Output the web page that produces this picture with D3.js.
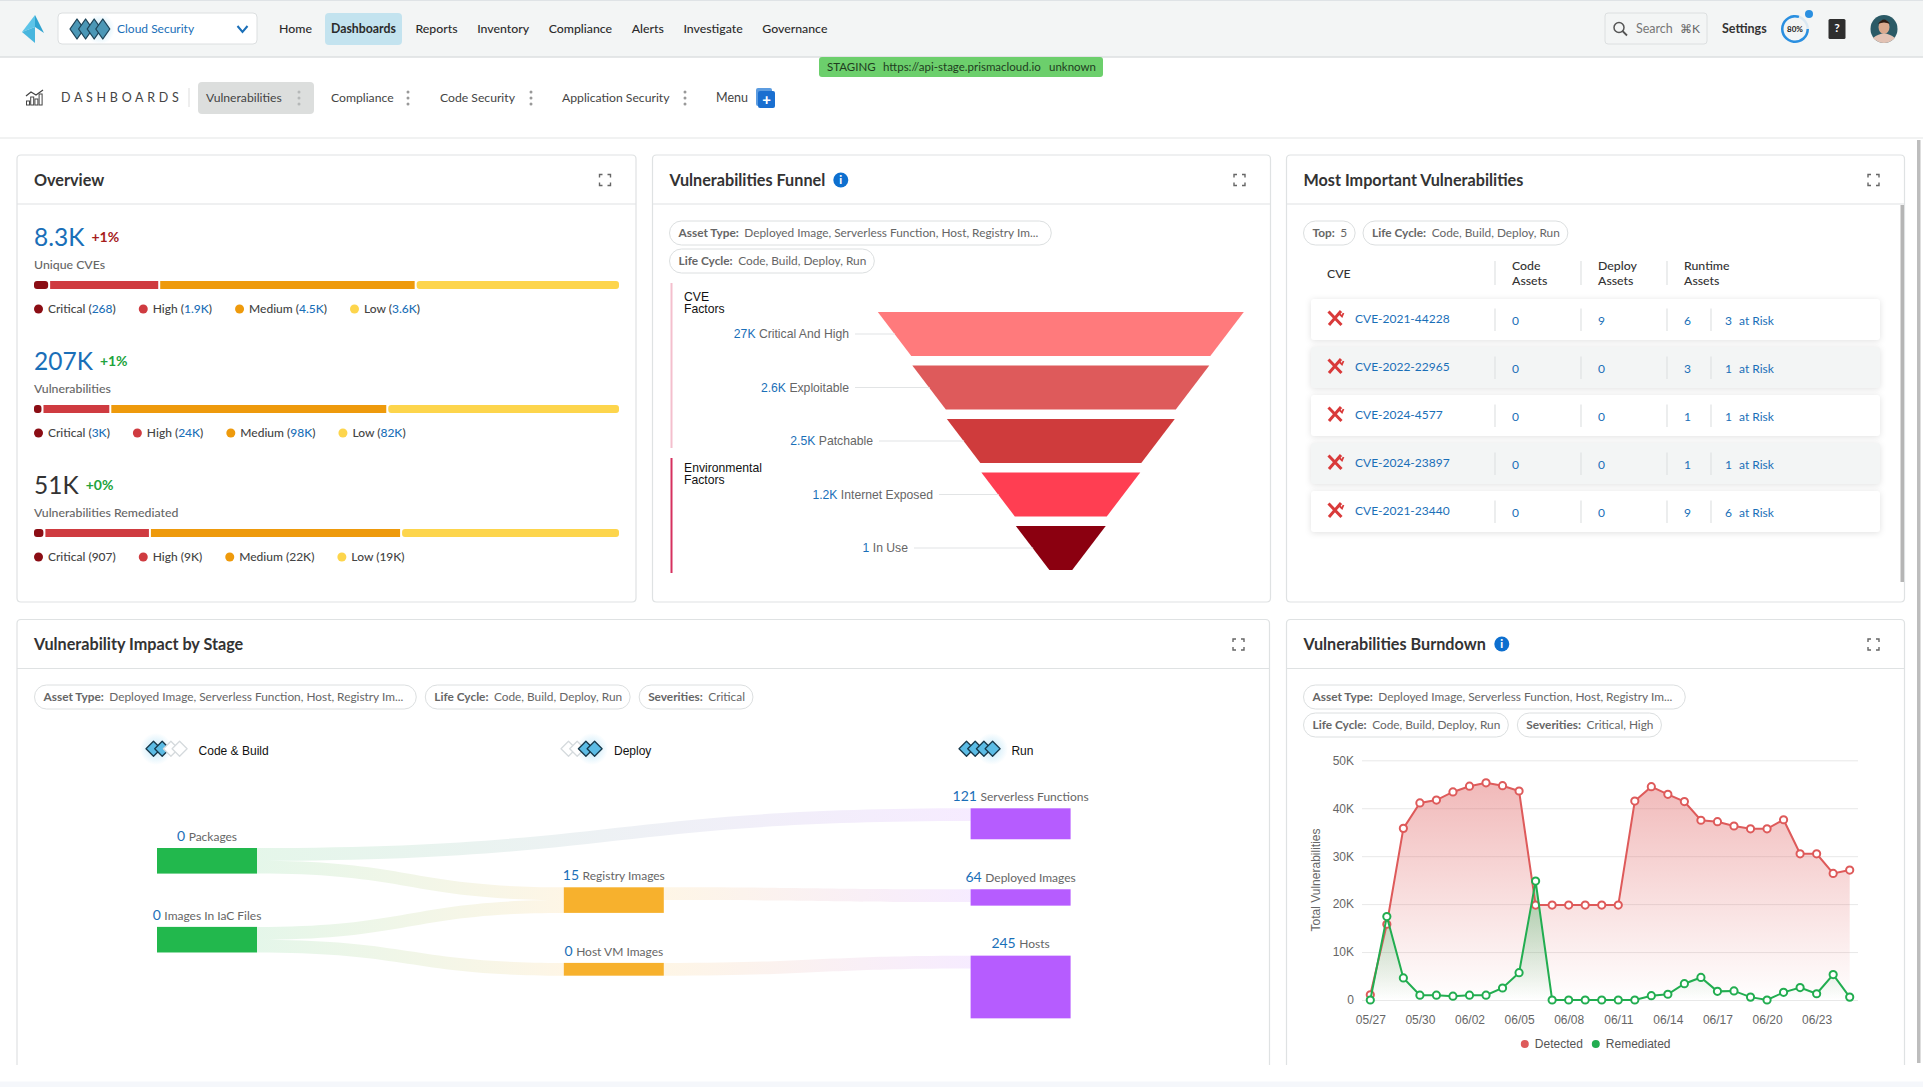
<!DOCTYPE html>
<html>
<head>
<meta charset="utf-8">
<title>Dashboards</title>
<script src="https://cdn.jsdelivr.net/npm/d3@7"></script>
<style>
  html, body { margin: 0; padding: 0; background: #fff; overflow: hidden; }
  svg { display: block; }
  text { font-family: Lato, "Open Sans", sans-serif; }
  .helv { font-family: "Liberation Sans", Arial, sans-serif; }
  .axis text { font-family: "Liberation Sans", Arial, sans-serif; font-size: 12px; fill: #666; }
  .axis .domain { display: none; }
  .axis line { stroke: #e8e8e8; }
</style>
</head>
<body>
<script>
// ---- data ----
var navItems = ["Home", "Dashboards", "Reports", "Inventory", "Compliance", "Alerts", "Investigate", "Governance"];
var tabItems = ["Vulnerabilities", "Compliance", "Code Security", "Application Security"];

var severityNames = ["Critical", "High", "Medium", "Low"];
var overviewTitles = ["Unique CVEs", "Vulnerabilities", "Vulnerabilities Remediated"];
var overviewTotals = ["8.3K", "207K", "51K"];
var overviewDeltas = ["+1%", "+1%", "+0%"];
var overviewValues = [[268, 1949, 4540, 3600], [3000, 24000, 98000, 82000], [907, 9200, 21900, 19000]];
var overviewLabels = [["268", "1.9K", "4.5K", "3.6K"], ["3K", "24K", "98K", "82K"], ["907", "9K", "22K", "19K"]];

var funnelNames = ["Critical And High", "Exploitable", "Patchable", "Internet Exposed", "In Use"];
var funnelValues = ["27K", "2.6K", "2.5K", "1.2K", "1"];

var cveIds = ["CVE-2021-44228", "CVE-2022-22965", "CVE-2024-4577", "CVE-2024-23897", "CVE-2021-23440"];
var codeAssets = [0, 0, 0, 0, 0];
var deployAssets = [9, 0, 0, 0, 0];
var runtimeAssets = [6, 3, 1, 1, 9];
var atRisk = [3, 1, 1, 1, 6];

var stageNames = ["Code & Build", "Deploy", "Run"];
var nodeNames = ["Packages", "Images In IaC Files", "Registry Images", "Host VM Images", "Serverless Functions", "Deployed Images", "Hosts"];
var nodeValues = [0, 0, 15, 0, 121, 64, 245];
var nodeStages = [0, 0, 1, 1, 2, 2, 2];
var linkSources = [0, 0, 1, 1, 2, 3];
var linkTargets = [4, 2, 2, 3, 5, 6];
var linkValues = [50, 50, 50, 50, 50, 50];

var dates = ["05/27", "05/28", "05/29", "05/30", "05/31", "06/01", "06/02", "06/03", "06/04", "06/05",
  "06/06", "06/07", "06/08", "06/09", "06/10", "06/11", "06/12", "06/13", "06/14", "06/15",
  "06/16", "06/17", "06/18", "06/19", "06/20", "06/21", "06/22", "06/23", "06/24", "06/25"];
var detected = [1100, 15800, 35800, 41100, 41700, 43400, 44600, 45300, 44700, 43600,
  19800, 19800, 19800, 19800, 19800, 19800, 41500, 44500, 42900, 41400,
  37500, 37200, 36300, 35700, 35700, 37600, 30500, 30500, 26400, 27100];
var remediated = [0, 17400, 4600, 1000, 1000, 800, 1000, 1000, 2500, 5700,
  24800, 0, 0, 0, 0, 0, 0, 900, 1200, 3400,
  4700, 1800, 1900, 600, 0, 1600, 2600, 1300, 5300, 600];
var burndownTicks = [0, 10000, 20000, 30000, 40000, 50000];

// colours
var severityColors = ["#8b0d14", "#cf3b40", "#ee9a0c", "#fdd54c"];
var funnelColors = ["#ff7a7c", "#de5a5b", "#cf3b3c", "#ff3e52", "#8b0010"];
var BLUE = "#1a6fb8", GREY = "#666", DARK = "#333", BORDER = "#dfe2e3";

var svg = d3.select("body").append("svg").attr("width", 1923).attr("height", 1087);
var defs = svg.append("defs");

// ---- helpers ----
function txt(parent, x, y, s, size, color, weight) {
  return parent.append("text").attr("x", x).attr("y", y).attr("dy", "0.35em")
    .attr("font-size", size).attr("fill", color || DARK).attr("font-weight", weight || 400).text(s);
}

function pill(x, y, label, value) {
  var g = svg.append("g");
  var r = g.append("rect").attr("x", x).attr("y", y).attr("height", 24).attr("rx", 12)
    .attr("fill", "#fff").attr("stroke", "#dcdfe0");
  var t = txt(g, x + 9, y + 12, label + ":", 11.85, GREY, 700);
  t.append("tspan").attr("dx", 5.5).attr("font-weight", 400).text(value);
  // the cut off values keep a little more room on the right
  var w = t.node().getComputedTextLength() + 5.5 + 17 + (value.slice(-3) == "..." ? 5 : 0);
  r.attr("width", w);
  return x + w;
}

function expandIcon(cx, cy) {
  svg.append("path").attr("fill", "none").attr("stroke", "#666").attr("stroke-width", 1.4)
    .attr("d", [[-1, -1], [1, -1], [1, 1], [-1, 1]].map(function(c) {
      var a = cx + c[0] * 5.5, b = cy + c[1] * 5.5;
      return "M" + (a - c[0] * 3) + " " + b + "H" + a + "V" + (b - c[1] * 3);
    }).join(""));
}

function infoIcon(cx, cy) {
  svg.append("circle").attr("cx", cx).attr("cy", cy).attr("r", 7.5).attr("fill", "#0d6fcf");
  txt(svg, cx, cy, "i", 11, "#fff", 900).attr("text-anchor", "middle");
}

// card with optional open bottom for the ones cut by the fold
function card(x0, y0, x1, y1, headY, title, open) {
  var r = 4;
  svg.append("path").attr("fill", "#fff").attr("stroke", BORDER).attr("stroke-width", 1.2)
    .attr("d", open
      ? "M" + x0 + " " + y1 + "V" + (y0 + r) + "Q" + x0 + " " + y0 + " " + (x0 + r) + " " + y0 + "H" + (x1 - r) + "Q" + x1 + " " + y0 + " " + x1 + " " + (y0 + r) + "V" + y1
      : "M" + (x0 + r) + " " + y0 + "H" + (x1 - r) + "Q" + x1 + " " + y0 + " " + x1 + " " + (y0 + r) + "V" + (y1 - r) + "Q" + x1 + " " + y1 + " " + (x1 - r) + " " + y1 + "H" + (x0 + r) + "Q" + x0 + " " + y1 + " " + x0 + " " + (y1 - r) + "V" + (y0 + r) + "Q" + x0 + " " + y0 + " " + (x0 + r) + " " + y0);
  svg.append("line").attr("x1", x0).attr("x2", x1).attr("y1", headY).attr("y2", headY).attr("stroke", BORDER).attr("stroke-width", 1.2);
  txt(svg, x0 + 17, (y0 + headY) / 2 + 0.5, title, 16.2, DARK, 700);
  expandIcon(x1 - 31, (y0 + headY) / 2 + 0.5);
}

function diamonds(x, cy, w, h, step, active, fill, stroke) {
  var g = svg.append("g");
  active.forEach(function(on, i) {
    var cx = x + w / 2 + i * step;
    g.append("path")
      .attr("d", "M" + (cx - w / 2) + " " + cy + "L" + cx + " " + (cy - h / 2) + "L" + (cx + w / 2) + " " + cy + "L" + cx + " " + (cy + h / 2) + "Z")
      .attr("stroke-linejoin", "round").attr("stroke-width", 1.3)
      .attr("fill", on ? fill : "#fff").attr("stroke", on ? stroke : "#d5dadd");
  });
}

var glow = defs.append("radialGradient").attr("id", "glow");
glow.append("stop").attr("offset", "0%").attr("stop-color", "#8fd3f2").attr("stop-opacity", 0.55);
glow.append("stop").attr("offset", "100%").attr("stop-color", "#8fd3f2").attr("stop-opacity", 0);

// ---- top bar ----
svg.append("rect").attr("width", 1923).attr("height", 57).attr("fill", "#f3f5f5");
svg.append("line").attr("x1", 0).attr("x2", 1923).attr("y1", 57).attr("y2", 57).attr("stroke", "#dcdfe0").attr("stroke-width", 1.5);
svg.append("line").attr("x1", 0).attr("x2", 1923).attr("y1", 0.5).attr("y2", 0.5).attr("stroke", "#dfe3e6");
svg.append("path").attr("d", "M35 15L22 32L35 27Z").attr("fill", "#5cc4e8");
svg.append("path").attr("d", "M35 15L44 33L35 27Z").attr("fill", "#2fa3d0");
svg.append("path").attr("d", "M22 32L35 27L35 43Z").attr("fill", "#48b6de");

svg.append("rect").attr("x", 58).attr("y", 13).attr("width", 199).attr("height", 31).attr("rx", 4).attr("fill", "#fff").attr("stroke", "#dcdfe0");
svg.append("circle").attr("cx", 100).attr("cy", 29).attr("r", 15).attr("fill", "url(#glow)");
diamonds(70, 29, 14, 20, 8.6, [1, 1, 1, 1], "#4b97b6", "#1d4357");
txt(svg, 117, 29, "Cloud Security", 12, BLUE);
svg.append("path").attr("d", "M237.5 26L242.5 32L247.5 26").attr("fill", "none").attr("stroke", "#1a6fb8").attr("stroke-width", 2);

svg.append("rect").attr("x", 325).attr("y", 13).attr("width", 77).attr("height", 32).attr("rx", 4).attr("fill", "#c3e3ef");
var navX = 279;
navItems.forEach(function(d, i) {
  if (d == "Dashboards") navX = 331;
  var t = txt(svg, navX, 29, d, 12.3, "#2b2b2b", d == "Dashboards" ? 700 : 500);
  navX += t.node().getComputedTextLength() + 19.6;
});

svg.append("rect").attr("x", 1605).attr("y", 13).attr("width", 102).attr("height", 31).attr("rx", 3).attr("fill", "#f3f5f5").attr("stroke", "#dcdfe0");
svg.append("circle").attr("cx", 1619).attr("cy", 27.5).attr("r", 5).attr("fill", "none").attr("stroke", "#555").attr("stroke-width", 1.5);
svg.append("line").attr("x1", 1622.5).attr("y1", 31).attr("x2", 1627).attr("y2", 35.5).attr("stroke", "#555").attr("stroke-width", 1.8);
txt(svg, 1636, 29, "Search", 12.5, "#777");
txt(svg, 1680, 29, "⌘K", 12, "#666").attr("font-family", "DejaVu Sans");
txt(svg, 1722, 29, "Settings", 12.5, DARK, 700);

var ringArc = d3.arc().innerRadius(11.5).outerRadius(14);
svg.append("circle").attr("cx", 1795).attr("cy", 29).attr("r", 12.7).attr("fill", "none").attr("stroke", "#dbe8f2").attr("stroke-width", 2.5);
svg.append("path").attr("transform", "translate(1795,29)").attr("fill", "#2a8fe0")
  .attr("d", ringArc({ startAngle: Math.PI * 0.5, endAngle: Math.PI * 2.1 }));
svg.append("circle").attr("cx", 1809).attr("cy", 14).attr("r", 4).attr("fill", "#2a8fe0");
txt(svg, 1795, 29, "80%", 8, "#222", 700).attr("text-anchor", "middle");

svg.append("rect").attr("x", 1828.5).attr("y", 19).attr("width", 17).attr("height", 20).attr("rx", 1.5).attr("fill", "#2e2e2e");
txt(svg, 1837, 28, "?", 12, "#fff", 700).attr("text-anchor", "middle");

svg.append("ellipse").attr("cx", 1884).attr("cy", 29).attr("rx", 13.5).attr("ry", 14).attr("fill", "#2b5a66");
svg.append("ellipse").attr("cx", 1884).attr("cy", 27).attr("rx", 5.5).attr("ry", 7).attr("fill", "#d9a98e");
svg.append("path").attr("d", "M1878 24Q1884 15 1890 24Q1884 21 1878 24Z").attr("fill", "#2d1c14");
svg.append("path").attr("d", "M1873 38Q1884 29 1895 38Q1890 43 1884 43Q1878 43 1873 38Z").attr("fill", "#e2c2b4");

// ---- dashboards strip ----
svg.append("rect").attr("x", 819).attr("y", 57).attr("width", 284).attr("height", 20).attr("rx", 3).attr("fill", "#6ccf6c");
txt(svg, 827, 67, "STAGING", 11.5, "#1f3d1f");
txt(svg, 883, 67, "https://api-stage.prismacloud.io", 11.5, "#1f3d1f");
txt(svg, 1049, 67, "unknown", 11.5, "#1f3d1f");

[[0, 4], [1, 8], [2, 6], [3, 11]].forEach(function(b) {
  svg.append("rect").attr("x", 26.5 + b[0] * 4.2).attr("y", 105 - b[1]).attr("width", 3).attr("height", b[1]).attr("fill", "none").attr("stroke", "#444");
});
svg.append("path").attr("d", "M26 96L31 92L36 95L43 90").attr("fill", "none").attr("stroke", "#444").attr("stroke-width", 1.3);
txt(svg, 61, 98, "DASHBOARDS", 12.5, "#444").attr("letter-spacing", "3.7px");
svg.append("line").attr("x1", 189).attr("x2", 189).attr("y1", 88).attr("y2", 107).attr("stroke", "#ddd");
svg.append("rect").attr("x", 198).attr("y", 82).attr("width", 116).attr("height", 32).attr("rx", 4).attr("fill", "#dcdedd");

var tabX = [206, 331, 440, 562];
var tabDots = [299, 408, 531, 685];
tabItems.forEach(function(d, i) {
  txt(svg, tabX[i], 98, d, 12.2, "#444");
  [-6, 0, 6].forEach(function(o) {
    svg.append("circle").attr("cx", tabDots[i]).attr("cy", 98 + o).attr("r", 1.5).attr("fill", i == 0 ? "#b5b8b8" : "#999");
  });
});
txt(svg, 716, 98, "Menu", 12.5, "#444");
svg.append("rect").attr("x", 756).attr("y", 88).attr("width", 16).attr("height", 18).attr("rx", 2).attr("fill", "#5c9ce0");
svg.append("rect").attr("x", 758).attr("y", 91).attr("width", 17).attr("height", 17).attr("rx", 2).attr("fill", "#1a6fd0");
txt(svg, 766.5, 99.5, "+", 15, "#fff", 900).attr("text-anchor", "middle");
svg.append("line").attr("x1", 0).attr("x2", 1923).attr("y1", 138).attr("y2", 138).attr("stroke", "#e3e5e6").attr("stroke-width", 1.2);

// ---- overview ----
card(17, 155, 636, 602, 204, "Overview");

var barScale = d3.scaleLinear().range([34, 619]);
overviewTitles.forEach(function(title, k) {
  var top = 237 + k * 124;
  var t = txt(svg, 34, top, overviewTotals[k], 24.5, k == 2 ? DARK : BLUE);
  var deltaColor = k == 0 ? "#a61c1c" : "#22a33c";
  txt(svg, 34 + t.node().getComputedTextLength() + 7, top, overviewDeltas[k], 14, deltaColor, 700);
  txt(svg, 34, top + 28, title, 12.3, GREY, 500);

  // stacked severity bar
  var vals = overviewValues[k];
  barScale.domain([0, d3.sum(vals)]);
  var acc = 0;
  vals.forEach(function(v, i) {
    var x0 = barScale(acc) + (i ? 1 : 0), x1 = barScale(acc + v) - (i < 3 ? 1 : 0);
    svg.append("rect").attr("x", x0).attr("y", top + 44).attr("width", x1 - x0).attr("height", 8)
      .attr("fill", severityColors[i]).attr("rx", (i == 0 || i == 3) ? 3 : 0);
    acc += v;
  });

  // legend, laid out left to right
  var lx = 34;
  severityNames.forEach(function(name, i) {
    svg.append("circle").attr("cx", lx + 4.5).attr("cy", top + 72).attr("r", 4.5).attr("fill", severityColors[i]);
    var lt = txt(svg, lx + 14, top + 72, name + " (", 12, "#444", 500);
    lt.append("tspan").attr("fill", k == 2 ? "#444" : BLUE).text(overviewLabels[k][i]);
    lt.append("tspan").text(")");
    lx += 14 + lt.node().getComputedTextLength() + 23;
  });
});

// ---- funnel ----
card(652.5, 155, 1270.5, 602, 204, "Vulnerabilities Funnel");
infoIcon(840.8, 180);
pill(669.5, 221, "Asset Type", "Deployed Image, Serverless Function, Host, Registry Im...");
pill(669.5, 249, "Life Cycle", "Code, Build, Deploy, Run");

svg.append("rect").attr("x", 670.5).attr("y", 283).attr("width", 2).attr("height", 165).attr("fill", "#f4bfcd");
svg.append("rect").attr("x", 670.5).attr("y", 458).attr("width", 2).attr("height", 115).attr("fill", "#d6305f");
txt(svg, 684, 296.7, "CVE", 12.2, "#111").attr("class", "helv");
txt(svg, 684, 309, "Factors", 12.2, "#111").attr("class", "helv");
txt(svg, 684, 467.7, "Environmental", 12.2, "#111").attr("class", "helv");
txt(svg, 684, 480, "Factors", 12.2, "#111").attr("class", "helv");

var funnelY = d3.scaleBand().domain(funnelNames).range([312, 570]).paddingInner(0.178);
// the slope runs per band, the white gaps between bands do not narrow it
var funnelHalf = d3.scaleLinear().domain([0, funnelNames.length]).range([183, 10.4]);
var funnelCx = 1060.8;
var funnelLabelRight = [849, 849, 873, 933, 908];

funnelNames.forEach(function(name, i) {
  var y0 = funnelY(name), y1 = y0 + funnelY.bandwidth(), ym = (y0 + y1) / 2;
  svg.append("path").attr("fill", funnelColors[i])
    .attr("d", d3.line()([
      [funnelCx - funnelHalf(i), y0], [funnelCx + funnelHalf(i), y0],
      [funnelCx + funnelHalf(i + 0.97), y1], [funnelCx - funnelHalf(i + 0.97), y1]
    ]) + "Z");
  svg.append("line").attr("x1", funnelLabelRight[i] + 6).attr("x2", funnelCx - funnelHalf(i + 0.5))
    .attr("y1", ym).attr("y2", ym).attr("stroke", "#e2e4e5").attr("stroke-width", 1.2);
  var t = txt(svg, funnelLabelRight[i], ym, "", 12.2, GREY).attr("class", "helv").attr("text-anchor", "end");
  t.append("tspan").attr("fill", BLUE).text(funnelValues[i] + " ");
  t.append("tspan").text(name);
});

// ---- most important table ----
card(1286.5, 155, 1904.5, 602, 204, "Most Important Vulnerabilities");
pill(1303.5, 221, "Top", "5");
pill(1363, 221, "Life Cycle", "Code, Build, Deploy, Run");
svg.append("rect").attr("x", 1900.5).attr("y", 205).attr("width", 3.5).attr("height", 377).attr("fill", "#b5b5b5");

var colSep = [1495, 1581, 1667];
txt(svg, 1327, 274, "CVE", 12.3, DARK, 500);
[["Code", "Assets", 1512], ["Deploy", "Assets", 1598], ["Runtime", "Assets", 1684]].forEach(function(h) {
  txt(svg, h[2], 266, h[0], 12.3, DARK, 500);
  txt(svg, h[2], 281, h[1], 12.3, DARK, 500);
});
colSep.forEach(function(x) {
  svg.append("line").attr("x1", x).attr("x2", x).attr("y1", 261).attr("y2", 285).attr("stroke", "#e0e2e3").attr("stroke-width", 1.2);
});

var rowY = d3.scaleBand().domain(cveIds).range([299, 532]).paddingInner(0.146);
cveIds.forEach(function(id, i) {
  var y0 = rowY(id), cy = y0 + 20.5;
  svg.append("rect").attr("x", 1311).attr("y", y0).attr("width", 569).attr("height", rowY.bandwidth()).attr("rx", 3)
    .attr("fill", i % 2 ? "#f3f5f5" : "#fff").style("filter", "drop-shadow(0 1px 3px rgba(0,0,0,0.12))");
  // crossed tools icon
  svg.append("path").attr("fill", "none").attr("stroke", "#d93a3a").attr("stroke-width", 3)
    .attr("d", "M1328.5 " + (cy - 8) + "L1341.5 " + (cy + 5.5) + "M1341 " + (cy - 8.5) + "L1329 " + (cy + 5.5));
  svg.append("path").attr("fill", "none").attr("stroke", "#d93a3a").attr("stroke-width", 1.8)
    .attr("d", "M1339 " + (cy - 6) + "L1342 " + (cy - 3) + "L1343.5 " + (cy - 6.5));
  txt(svg, 1355, cy - 0.5, id, 12, BLUE);
  txt(svg, 1512, cy + 1, codeAssets[i], 12, BLUE);
  txt(svg, 1598, cy + 1, deployAssets[i], 12, BLUE);
  txt(svg, 1684, cy + 1, runtimeAssets[i], 12, BLUE);
  txt(svg, 1725, cy + 1, atRisk[i], 12, BLUE);
  txt(svg, 1739, cy + 1, "at Risk", 12, BLUE);
  colSep.concat([1711]).forEach(function(x) {
    svg.append("line").attr("x1", x).attr("x2", x).attr("y1", cy - 11).attr("y2", cy + 11.5).attr("stroke", "#e0e2e3").attr("stroke-width", 1.2);
  });
});

// ---- impact by stage ----
card(17, 619.5, 1269.5, 1065, 668.5, "Vulnerability Impact by Stage", true);
var pe = pill(34.5, 685, "Asset Type", "Deployed Image, Serverless Function, Host, Registry Im...");
pe = pill(pe + 9, 685, "Life Cycle", "Code, Build, Deploy, Run");
pill(pe + 9, 685, "Severities", "Critical");

var stageIconX = [146, 561, 959];
var stageTextX = [198.6, 614, 1011.4];
var stageActive = [[1, 1, 0, 0], [0, 0, 1, 1], [1, 1, 1, 1]];
var stageGlow = [156, 592, 992];
stageNames.forEach(function(s, i) {
  svg.append("circle").attr("cx", stageGlow[i]).attr("cy", 749).attr("r", 16).attr("fill", "url(#glow)");
  diamonds(stageIconX[i], 748.7, 15, 15, 8.7, stageActive[i], "#5cbce5", "#17384a");
  txt(svg, stageTextX[i], 751, s, 12, "#111").attr("class", "helv");
});

// sankey, small hand layout: one column per stage
var nodeColors = ["#22b84d", "#f7b12d", "#b65cff"];
var sizeScale = d3.scaleLinear().domain([0, 245]).range([0, 62.7]);
var colX = d3.scalePoint().domain([0, 1, 2]).range([157, 970.6]);
var nodeW = 100;
var colTop = [848, 887.3, 808.3];
var colGap = [53.3, 50, 50];

var nodes = nodeNames.map(function(name, i) {
  var inSum = 0, outSum = 0;
  linkTargets.forEach(function(t, l) { if (t == i) inSum += linkValues[l]; });
  linkSources.forEach(function(s, l) { if (s == i) outSum += linkValues[l]; });
  return { name: name, value: nodeValues[i], stage: nodeStages[i], h: sizeScale(Math.max(nodeValues[i], inSum, outSum)), inY: 0, outY: 0 };
});
var colCursor = colTop.slice();
nodes.forEach(function(n) {
  n.y = colCursor[n.stage];
  n.x = colX(n.stage);
  n.inY = n.y;
  n.outY = n.y;
  colCursor[n.stage] += n.h + colGap[n.stage];
});

var bandArea = d3.area().curve(d3.curveBumpX).x(function(d) { return d.x; }).y0(function(d) { return d.y0; }).y1(function(d) { return d.y1; });
linkSources.forEach(function(s, l) {
  var a = nodes[s], b = nodes[linkTargets[l]], w = sizeScale(linkValues[l]);
  var id = "link" + l;
  var grad = defs.append("linearGradient").attr("id", id).attr("gradientUnits", "userSpaceOnUse")
    .attr("x1", a.x + nodeW).attr("x2", b.x).attr("y1", 0).attr("y2", 0);
  grad.append("stop").attr("offset", "0%").attr("stop-color", nodeColors[a.stage]).attr("stop-opacity", 0.12);
  grad.append("stop").attr("offset", "100%").attr("stop-color", nodeColors[b.stage]).attr("stop-opacity", 0.12);
  svg.append("path").attr("fill", "url(#" + id + ")").attr("d", bandArea([
    { x: a.x + nodeW, y0: a.outY, y1: a.outY + w },
    { x: b.x, y0: b.inY, y1: b.inY + w }
  ]));
  a.outY += w;
  b.inY += w;
});

nodes.forEach(function(n) {
  svg.append("rect").attr("x", n.x).attr("y", n.y).attr("width", nodeW).attr("height", n.h).attr("fill", nodeColors[n.stage]);
  var t = txt(svg, n.x + nodeW / 2, n.y - 11.5, "", 12, GREY).attr("text-anchor", "middle");
  t.append("tspan").attr("fill", BLUE).attr("font-size", 14).text(n.value + " ");
  t.append("tspan").text(n.name);
});

// ---- burndown ----
card(1286.5, 619.5, 1904.5, 1065, 668.5, "Vulnerabilities Burndown", true);
infoIcon(1501.8, 644);
pill(1303.5, 685, "Asset Type", "Deployed Image, Serverless Function, Host, Registry Im...");
var pb = pill(1303.5, 713, "Life Cycle", "Code, Build, Deploy, Run");
pill(pb + 9, 713, "Severities", "Critical, High");

var x = d3.scalePoint().domain(dates).range([1370.3, 1849.7]);
var y = d3.scaleLinear().domain([0, 50000]).range([1000, 760.3]);

svg.append("g").attr("class", "axis").attr("transform", "translate(1362,0)")
  .call(d3.axisLeft(y).tickValues(burndownTicks).tickSize(-496).tickPadding(8)
    .tickFormat(function(d) { return d ? (d / 1000) + "K" : "0"; }));
svg.append("g").attr("class", "axis").attr("transform", "translate(0,1000)")
  .call(d3.axisBottom(x).tickValues(dates.filter(function(d, i) { return i % 3 == 0; })).tickSize(0).tickPadding(15));

svg.append("text").attr("class", "helv").attr("transform", "translate(1316,880) rotate(-90)")
  .attr("text-anchor", "middle").attr("dy", "0.35em").attr("font-size", 12).attr("fill", GREY).text("Total Vulnerabilities");

function series(values, color, topValue, topAlpha, gradId) {
  var grad = defs.append("linearGradient").attr("id", gradId).attr("gradientUnits", "userSpaceOnUse")
    .attr("x1", 0).attr("x2", 0).attr("y1", y(topValue)).attr("y2", y(0));
  grad.append("stop").attr("offset", "0%").attr("stop-color", color).attr("stop-opacity", topAlpha);
  grad.append("stop").attr("offset", "100%").attr("stop-color", color).attr("stop-opacity", 0);
  svg.append("path").attr("fill", "url(#" + gradId + ")")
    .attr("d", d3.area().x(function(d, i) { return x(dates[i]); }).y0(y(0)).y1(function(d) { return y(d); })(values));
  return function() {
    svg.append("path").attr("fill", "none").attr("stroke", color).attr("stroke-width", 2)
      .attr("d", d3.line().x(function(d, i) { return x(dates[i]); }).y(function(d) { return y(d); })(values));
    svg.append("g").selectAll("circle").data(values).enter().append("circle")
      .attr("cx", function(d, i) { return x(dates[i]); })
      .attr("cy", function(d) { return y(d); })
      .attr("r", 3.6).attr("fill", "#fff").attr("stroke", color).attr("stroke-width", 2);
  };
}
var drawRed = series(detected, "#de5a5a", d3.max(detected), 0.42, "areaRed");
var drawGreen = series(remediated, "#22ad50", d3.max(remediated), 0.4, "areaGreen");
drawRed();
drawGreen();

[["Detected", "#de5a5a", 1524.8], ["Remediated", "#22ad50", 1595.8]].forEach(function(l) {
  svg.append("circle").attr("cx", l[2]).attr("cy", 1044).attr("r", 4).attr("fill", l[1]);
  txt(svg, l[2] + 10, 1044, l[0], 12, "#555").attr("class", "helv");
});

// ---- page scrollbar and bottom band ----
svg.append("rect").attr("x", 1917).attr("y", 140).attr("width", 3.5).attr("height", 923).attr("fill", "#bdbdbd");
svg.append("rect").attr("x", 0).attr("y", 1081.5).attr("width", 1923).attr("height", 6).attr("fill", "#f5f7fb");
</script>
</body>
</html>
